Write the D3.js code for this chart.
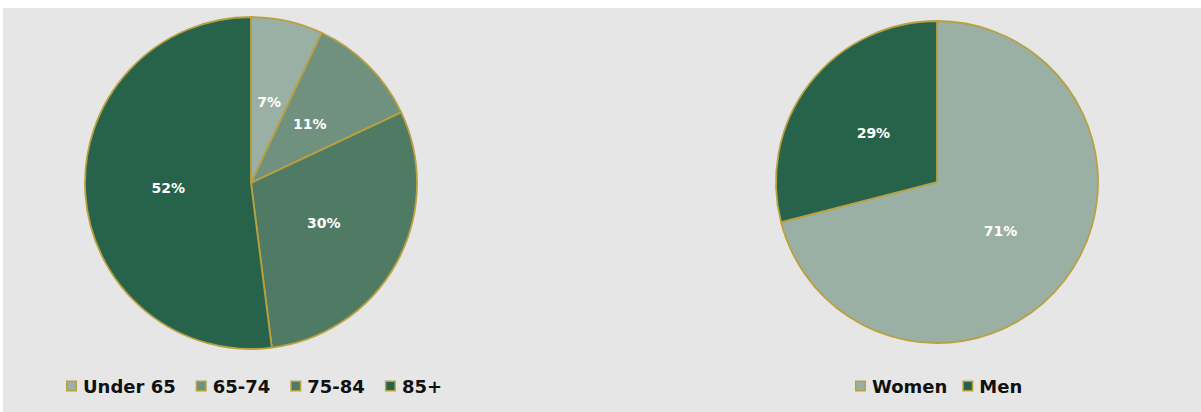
<!DOCTYPE html>
<html>
<head>
<meta charset="utf-8">
<script src="https://cdnjs.cloudflare.com/ajax/libs/d3/7.8.5/d3.min.js"></script>
<style>
  html, body { margin: 0; padding: 0; background: #fff; }
  svg { display: block; }
  .lbl { font-family: "DejaVu Sans", sans-serif; font-weight: bold; fill: #fff; }
  .leg { font-family: "DejaVu Sans", sans-serif; font-weight: bold; fill: #111; }
</style>
</head>
<body>
<div id="chart"></div>
<script>
'use strict';
// age split
var ageGroups = ['Under 65', '65-74', '75-84', '85+'];
var ageValues = [7, 11, 30, 52];
var ageColors = ['#9bb0a4', '#71917f', '#4f7a63', '#27634a'];

// gender split
var genderGroups = ['Women', 'Men'];
var genderValues = [71, 29];
var genderColors = ['#9bb0a4', '#27634a'];

var width = 1201,
    height = 412;
var strokeColor = '#b9a040';

var svg = d3.select('#chart').append('svg')
    .attr('width', width)
    .attr('height', height);

svg.append('rect')
    .attr('x', 3).attr('y', 8)
    .attr('width', width - 3).attr('height', height - 8)
    .attr('fill', '#e6e6e6');

var drawPie = function (cx, cy, r, names, values, colors) {
    var data = names.map(function (n, i) {
        return { name: n, value: values[i], color: colors[i] };
    });
    var pie = d3.pie().sort(null).value(function (d) { return d.value; });
    var arc = d3.arc().innerRadius(0).outerRadius(r);
    var labelArc = d3.arc().innerRadius(r * 0.5).outerRadius(r * 0.5);

    var g = svg.append('g').attr('transform', 'translate(' + cx + ',' + cy + ')');
    g.selectAll('path.slice').data(pie(data)).enter()
        .append('path')
        .attr('class', 'slice')
        .attr('d', arc)
        .attr('fill', function (d) { return d.data.color; })
        .attr('stroke', strokeColor)
        .attr('stroke-width', 1.8)
        .attr('stroke-linejoin', 'round');

    g.selectAll('text.lbl').data(pie(data)).enter()
        .append('text')
        .attr('class', 'lbl')
        .attr('transform', function (d) { return 'translate(' + labelArc.centroid(d) + ')'; })
        .attr('text-anchor', 'middle')
        .attr('dy', '0.36em')
        .style('font-size', '14px')
        .text(function (d) { return d.data.value + '%'; });
};

var drawLegend = function (x0, y, names, colors, gap) {
    var g = svg.append('g').attr('transform', 'translate(' + x0 + ',' + y + ')');
    var x = 0;
    names.forEach(function (n, i) {
        g.append('rect')
            .attr('x', x + 0.75).attr('y', -11.75)
            .attr('width', 9.5).attr('height', 9.5)
            .attr('fill', colors[i])
            .attr('stroke', strokeColor)
            .attr('stroke-width', 1.5);
        var t = g.append('text')
            .attr('class', 'leg')
            .attr('x', x + 17)
            .attr('y', 0)
            .style('font-size', '18px')
            .text(n);
        x += 17 + t.node().getComputedTextLength() + gap;
    });
};

drawPie(251, 183, 166, ageGroups, ageValues, ageColors);
drawPie(937, 182, 161, genderGroups, genderValues, genderColors);

drawLegend(66, 393, ageGroups, ageColors, 20);
drawLegend(855, 393, genderGroups, genderColors, 15);
</script>
</body>
</html>
